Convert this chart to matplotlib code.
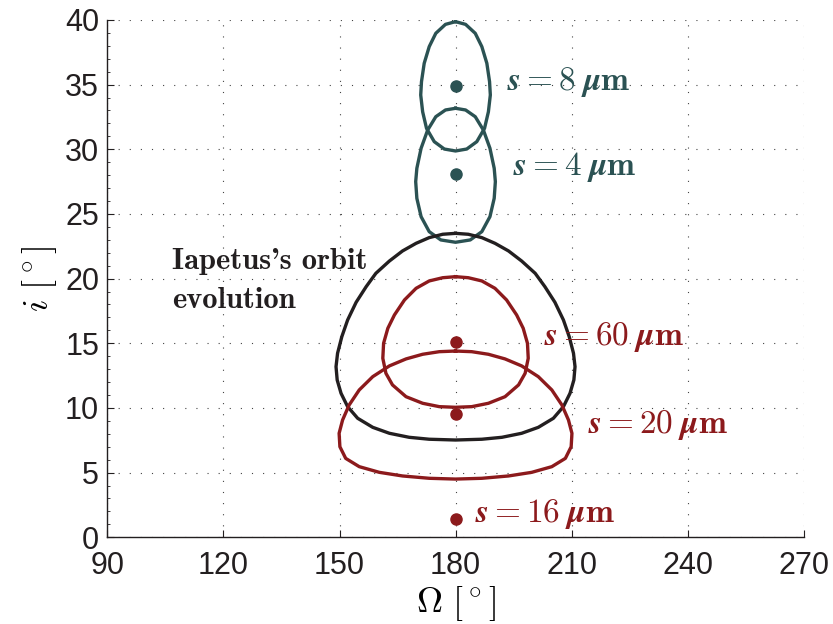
import numpy as np
import matplotlib
matplotlib.use("Agg")
import matplotlib.pyplot as plt
from matplotlib.ticker import MultipleLocator

plt.rcParams['mathtext.fontset'] = 'cm'

# ---- data (right half of each symmetric loop; Omega, i) ----
center = 180.0
black_om = [180.0, 183.3, 186.8, 190.2, 193.7, 197.1, 200.6, 203.1, 205.7, 207.9, 209.4,
            210.5, 210.9, 210.6, 209.6, 207.9, 205.3, 201.4, 197.1, 192.0, 186.8, 180.0]
black_i  = [23.5, 23.43, 23.17, 22.73, 22.14, 21.36, 20.41, 19.38, 18.17, 16.8, 15.51,
            14.23, 13.19, 12.16, 11.13, 10.1, 9.2, 8.5, 8.04, 7.73, 7.58, 7.52]

red60_om = [180.0, 183.3, 186.8, 190.2, 193.2, 195.8, 197.5, 198.6, 198.8, 198.0, 196.3,
            192.8, 188.5, 184.2, 180.0]
red60_i  = [20.15, 20.07, 19.82, 19.25, 18.35, 17.19, 16.16, 15.0, 13.84, 12.68, 11.78,
            10.87, 10.36, 10.1, 10.05]

red20_om = [180.0, 184.2, 188.5, 192.8, 197.1, 201.4, 204.9, 207.5, 209.2, 210.1, 209.9,
            208.4, 204.9, 199.7, 193.7, 186.8, 180.0]
red20_i  = [14.4, 14.35, 14.15, 13.79, 13.25, 12.42, 11.39, 10.23, 9.07, 8.04, 7.0,
            6.1, 5.46, 5.02, 4.74, 4.56, 4.5]

teal8_om = [180.0, 182.6, 185.1, 186.8, 188.1, 188.8, 189.0, 188.5, 187.5, 185.5, 182.9, 180.0]
teal8_i  = [39.87, 39.66, 38.97, 37.94, 36.65, 35.23, 34.2, 32.9, 31.62, 30.59, 30.02, 29.87]

teal4_om = [180.0, 182.6, 185.1, 187.2, 188.9, 190.0, 190.3, 190.0, 188.9, 186.8, 183.8, 180.0]
teal4_i  = [33.17, 33.04, 32.52, 31.49, 30.08, 28.53, 27.5, 26.21, 24.79, 23.63, 22.99, 22.81]

dot_om = [180, 180, 180, 180, 180]
dot_i = [34.9, 28.1, 15.1, 9.5, 1.45]

labels = [r'$\boldsymbol{s}=\mathbf{8}\;\boldsymbol{\mu}\mathbf{m}$',
          r'$\boldsymbol{s}=\mathbf{4}\;\boldsymbol{\mu}\mathbf{m}$',
          r'$\boldsymbol{s}=\mathbf{60}\;\boldsymbol{\mu}\mathbf{m}$',
          r'$\boldsymbol{s}=\mathbf{20}\;\boldsymbol{\mu}\mathbf{m}$',
          r'$\boldsymbol{s}=\mathbf{16}\;\boldsymbol{\mu}\mathbf{m}$']
label_om = [193.2, 194.9, 202.8, 214.3, 185.1]
label_i = [34.6, 28.0, 14.87, 8.04, 1.21]

xticks = [90, 120, 150, 180, 210, 240, 270]
yticks = [0, 5, 10, 15, 20, 25, 30, 35, 40]

TEAL = '#2b5253'
RED = '#8c1a1c'
BLACK = '#231f20'
dot_colors = [TEAL, TEAL, RED, RED, RED]


def loop(om, inc):
    om = np.asarray(om, float)
    inc = np.asarray(inc, float)
    left = 2 * center - om[::-1]
    full_om = np.concatenate([om, left[1:]])
    full_i = np.concatenate([inc, inc[::-1][1:]])
    return full_om, full_i


fig = plt.figure(figsize=(8.33, 6.24), dpi=100)
ax = fig.add_axes([0.129, 0.139, 0.8357, 0.829])

lw = 2.4
for om, inc, c in [(teal8_om, teal8_i, TEAL), (teal4_om, teal4_i, TEAL),
                   (black_om, black_i, BLACK), (red60_om, red60_i, RED),
                   (red20_om, red20_i, RED)]:
    x, y = loop(om, inc)
    ax.plot(x, y, color=c, lw=lw, solid_joinstyle='round', zorder=3)

for xo, yi, c in zip(dot_om, dot_i, dot_colors):
    ax.plot([xo], [yi], 'o', color=c, ms=8, zorder=4)

for lab, xo, yi, c in zip(labels, label_om, label_i, dot_colors):
    ax.text(xo, yi, lab, color=c, fontsize=24, ha='left', va='baseline', zorder=5)

ax.text(106.6, 20.75, "Iapetus's orbit", family='cmb10', fontsize=22, color=BLACK,
        ha='left', va='baseline')
ax.text(106.6, 17.7, "evolution", family='cmb10', fontsize=22, color=BLACK,
        ha='left', va='baseline')

ax.set_xlim(90, 270)
ax.set_ylim(0, 40)
ax.set_xticks(xticks)
ax.set_yticks(yticks)
ax.yaxis.set_minor_locator(MultipleLocator(1))
ax.tick_params(which='both', direction='in', labelsize=22, colors=BLACK)
ax.tick_params(which='major', length=5, width=0.8)
ax.tick_params(which='minor', length=2.5, width=0.6)
ax.tick_params(axis='x', pad=10)
ax.tick_params(axis='y', pad=6)
for lab in ax.get_xticklabels() + ax.get_yticklabels():
    lab.set_family('Liberation Sans')
    lab.set_color(BLACK)

ax.grid(True, which='major', color='#444444', linestyle=(0, (1, 9)), lw=0.8)
ax.set_axisbelow(True)
for s in ['top', 'right']:
    ax.spines[s].set_visible(False)
for s in ['left', 'bottom']:
    ax.spines[s].set_linewidth(1.0)
    ax.spines[s].set_color(BLACK)

ax.set_xlabel(r'$\Omega\ [^\circ]$', fontsize=26, labelpad=2)
ax.set_ylabel(r'$i\ [^\circ]$', fontsize=26, labelpad=4)

fig.savefig('out.png', dpi=100)
